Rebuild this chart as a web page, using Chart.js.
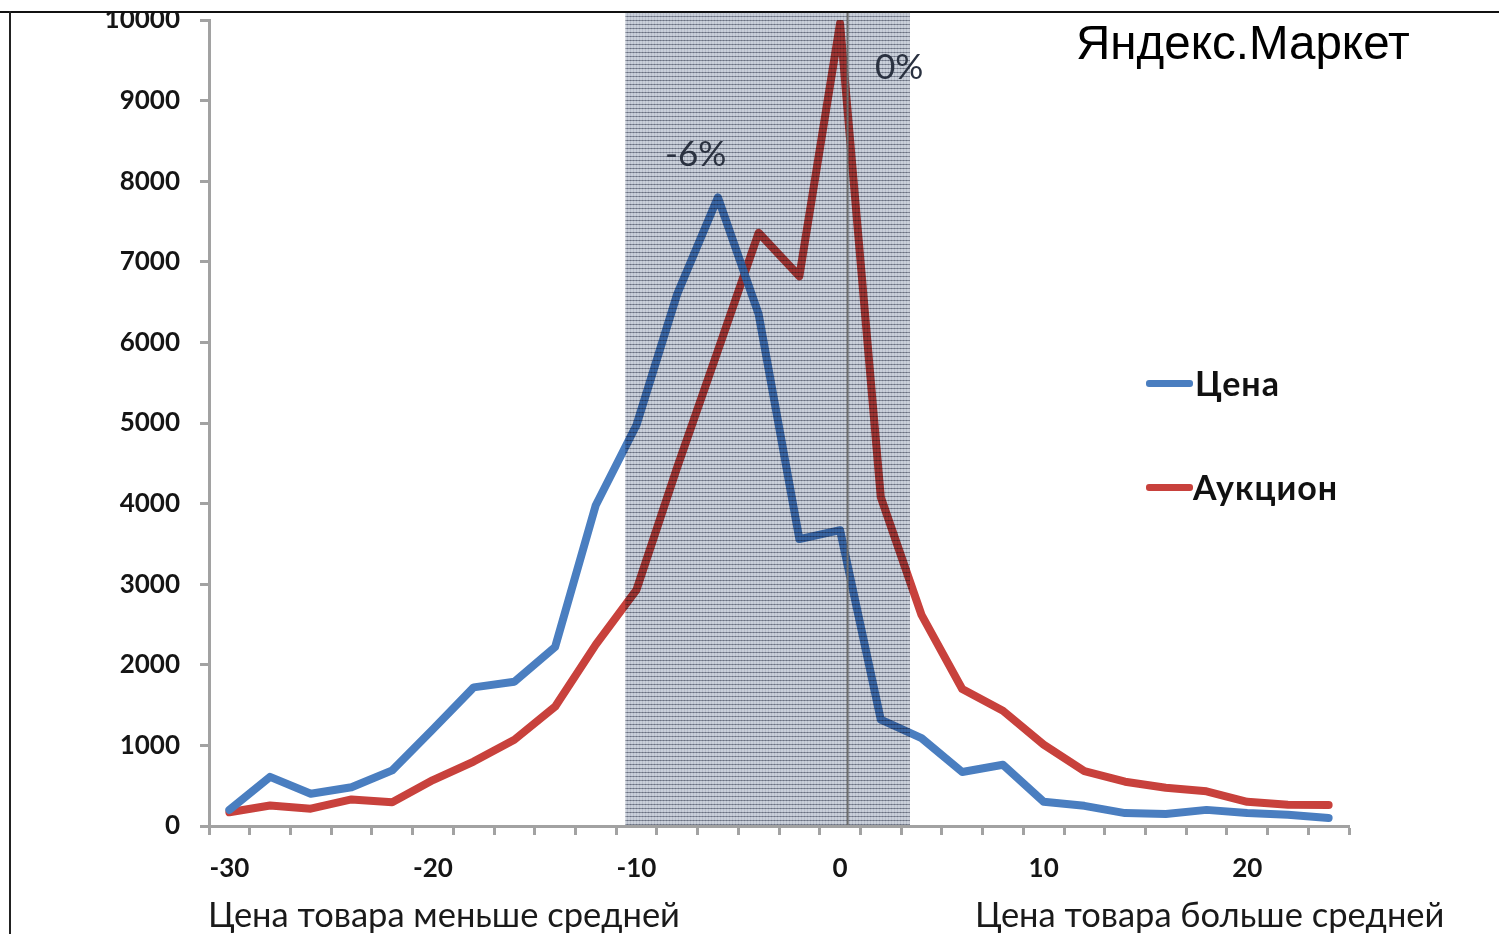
<!DOCTYPE html>
<html>
<head>
<meta charset="utf-8">
<script src="https://cdn.jsdelivr.net/npm/chart.js@4"></script>
<style>
  html, body { margin: 0; padding: 0; background: #fff; }
  #wrap { position: relative; width: 1499px; height: 934px; overflow: hidden; }
  canvas { position: absolute; left: 0; top: 0; }
  .t { position: absolute; white-space: nowrap; line-height: 1; }
  #cover { position: absolute; left: 0; top: 0; width: 1499px; height: 11px; background: #fff; border-bottom: 2px solid #111; }
  #leftline { position: absolute; left: 9px; top: 11px; width: 2px; height: 923px; background: #222; }
  .leg { position: absolute; font-family: Lato, sans-serif; font-weight: bold; font-size: 34px; letter-spacing: 1px; color: #111; }
  .sw { position: absolute; height: 7px; border-radius: 3px; }
</style>
</head>
<body>
<div id="wrap">
  <canvas id="c" width="1499" height="934"></canvas>
  <div id="cover"></div>
  <div id="leftline"></div>
  <div class="t" style="left:1076px; top:19px; font-family:'Liberation Sans', Arial, sans-serif; font-size:47.5px; color:#000;">Яндекс.Маркет</div>
  <div class="t" style="left:665px; top:135px; font-family:Lato, sans-serif; font-size:35px; color:#2a3140;">-6%</div>
  <div class="t" style="left:875px; top:48px; font-family:Lato, sans-serif; font-size:35px; color:#2a3140;">0%</div>
  <div class="sw" style="left:1146px; top:380px; width:47px; background:#4a7ec0;"></div>
  <div class="t leg" id="leg0" style="left:1195px; top:366px;"></div>
  <div class="sw" style="left:1146px; top:484px; width:47px; background:#c8413c;"></div>
  <div class="t leg" id="leg1" style="left:1193px; top:470px;"></div>
  <div class="t" style="left:208px; top:897px; font-family:Lato, sans-serif; font-size:34.5px; color:#1a1a1a;">Цена товара меньше средней</div>
  <div class="t" style="left:975px; top:897px; font-family:Lato, sans-serif; font-size:34.5px; color:#1a1a1a;">Цена товара больше средней</div>
</div>
<script>
// Categories: deviation of price from the average, %
const categories = [-30,-28,-26,-24,-22,-20,-18,-16,-14,-12,-10,-8,-6,-4,-2,0,2,4,6,8,10,12,14,16,18,20,22,24];
// Series values
const priceSeries   = [200,610,400,480,690,1200,1720,1790,2220,3980,4975,6600,7800,6350,3560,3670,1320,1090,670,760,300,250,160,150,200,160,140,100];
const auctionSeries = [170,255,215,330,295,570,800,1070,1480,2250,2930,4450,5900,7360,6820,9960,4080,2620,1700,1430,1010,680,550,475,430,300,265,260];
const seriesNames = ['Цена', 'Аукцион'];
// Axis ticks
const xLabelValues = [-30,-20,-10,0,10,20];
const yTickValues = [0,1000,2000,3000,4000,5000,6000,7000,8000,9000,10000];
// Highlighted band and marker line (in x-axis units)
const bandRange = [-10.55, 3.43];
const markerValue = [0.37];

document.getElementById('leg0').textContent = seriesNames[0];
document.getElementById('leg1').textContent = seriesNames[1];

function makePattern(ctx) {
  const p = document.createElement('canvas');
  p.width = 3; p.height = 4;
  const g = p.getContext('2d');
  g.fillStyle = '#c9cfd9'; g.fillRect(0, 0, 3, 4);
  g.fillStyle = '#b7bdca'; g.fillRect(0, 0, 1, 4);
  g.fillStyle = '#838a99'; g.fillRect(0, 0, 3, 1);
  g.fillStyle = '#6a7080'; g.fillRect(0, 0, 1, 1);
  return ctx.createPattern(p, 'repeat');
}

const bandPlugin = {
  id: 'band',
  afterDatasetsDraw(chart) {
    const { ctx, chartArea, scales } = chart;
    const x1 = scales.x.getPixelForValue(bandRange[0]);
    const x2 = scales.x.getPixelForValue(bandRange[1]);
    const top = chartArea.top - 9;
    const bottom = chartArea.bottom - 1;
    ctx.save();
    ctx.globalCompositeOperation = 'multiply';
    ctx.fillStyle = makePattern(ctx);
    ctx.fillRect(x1, top, x2 - x1, bottom - top);
    ctx.restore();
    const xm = scales.x.getPixelForValue(markerValue[0]);
    ctx.save();
    ctx.strokeStyle = '#6c6c6c';
    ctx.lineWidth = 2;
    ctx.beginPath();
    ctx.moveTo(xm, top);
    ctx.lineTo(xm, bottom);
    ctx.stroke();
    ctx.restore();
  }
};

const axisGray = '#a2a2a2';
const tickFont = { family: 'Lato, sans-serif', size: 26, weight: 'bold' };

new Chart(document.getElementById('c'), {
  type: 'line',
  data: {
    datasets: [
      {
        label: seriesNames[0],
        data: categories.map((x, i) => ({ x, y: priceSeries[i] })),
        borderColor: '#4a7ec0',
        borderWidth: 8,
        pointRadius: 0,
        tension: 0,
        borderJoinStyle: 'round',
        borderCapStyle: 'round'
      },
      {
        label: seriesNames[1],
        data: categories.map((x, i) => ({ x, y: auctionSeries[i] })),
        borderColor: '#c8413c',
        borderWidth: 8,
        pointRadius: 0,
        tension: 0,
        borderJoinStyle: 'round',
        borderCapStyle: 'round'
      }
    ]
  },
  options: {
    responsive: false,
    animation: false,
    devicePixelRatio: 1,
    layout: { autoPadding: false, padding: { top: 20, right: 150, bottom: 0, left: 0 } },
    plugins: { legend: { display: false }, tooltip: { enabled: false } },
    scales: {
      x: {
        type: 'linear',
        min: categories[0] - 1,
        max: categories[categories.length - 1] + 1,
        afterBuildTicks(scale) {
          const t = [];
          for (let v = scale.min; v <= scale.max; v++) t.push({ value: v });
          scale.ticks = t;
        },
        afterFit(scale) { scale.height = 108; },
        border: { color: axisGray, width: 3 },
        grid: {
          drawOnChartArea: false,
          drawTicks: true,
          tickLength: 9,
          tickWidth: 3,
          tickColor: (ctx) => (ctx.tick && Math.abs(ctx.tick.value % 2) === 1) ? axisGray : 'rgba(0,0,0,0)'
        },
        ticks: {
          autoSkip: false,
          maxRotation: 0,
          padding: 18,
          color: '#151515',
          font: tickFont,
          callback: (v) => xLabelValues.includes(v) ? String(v) : ''
        }
      },
      y: {
        min: yTickValues[0],
        max: yTickValues[yTickValues.length - 1],
        afterBuildTicks(scale) { scale.ticks = yTickValues.map(v => ({ value: v })); },
        afterFit(scale) { scale.width = 209; scale.paddingTop = 0; scale.paddingBottom = 0; },
        border: { color: axisGray, width: 3 },
        grid: {
          drawOnChartArea: false,
          drawTicks: true,
          tickLength: 9,
          tickWidth: 3,
          tickColor: axisGray
        },
        ticks: {
          padding: 20,
          color: '#151515',
          font: tickFont,
          callback: (v) => String(v)
        }
      }
    }
  },
  plugins: [bandPlugin]
});
</script>
</body>
</html>
